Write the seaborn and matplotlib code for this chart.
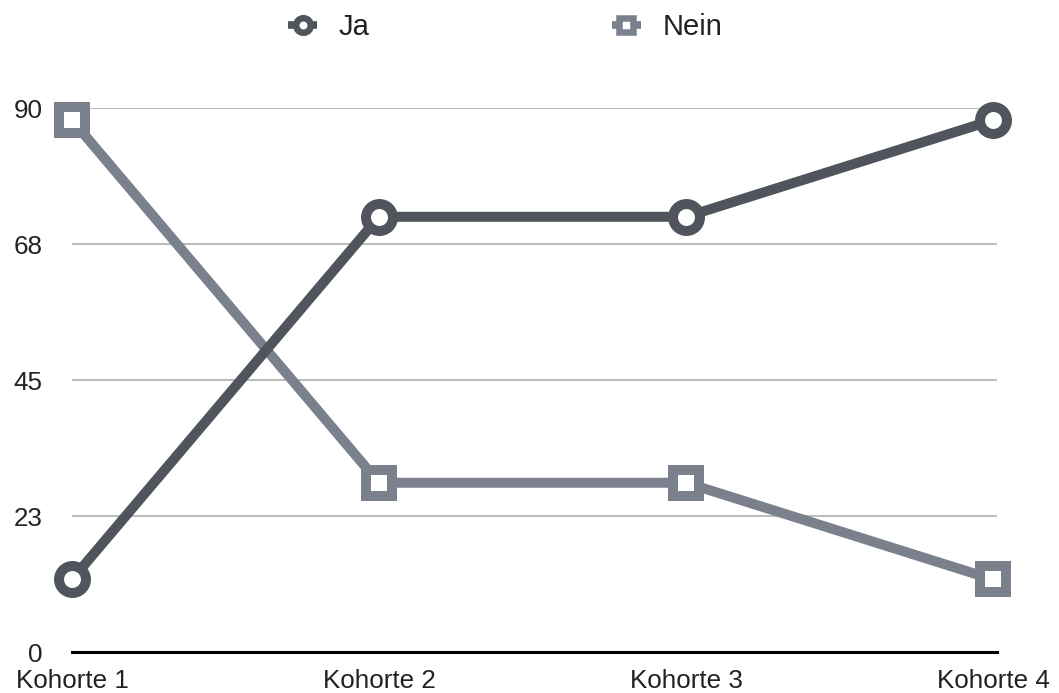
import matplotlib
matplotlib.use("Agg")
import matplotlib.pyplot as plt
from matplotlib.lines import Line2D
import seaborn as sns
import pandas as pd

# Survey answers per cohort
kohorten = ["Kohorte 1", "Kohorte 2", "Kohorte 3", "Kohorte 4"]
ja = [12, 72, 72, 88]
nein = [88, 28, 28, 12]

y_ticks = [0, 22.5, 45, 67.5, 90]
y_tick_labels = ["0", "23", "45", "68", "90"]

farben = {"Ja": "#50545c", "Nein": "#7a818d"}
marker = {"Ja": "o", "Nein": "s"}

df = pd.DataFrame({
    "Kohorte": kohorten * 2,
    "pos": list(range(len(kohorten))) * 2,
    "Wert": ja + nein,
    "Antwort": ["Ja"] * len(ja) + ["Nein"] * len(nein),
})

sns.set_theme(style="white")
plt.rcParams["font.family"] = ["Liberation Sans", "DejaVu Sans"]

fig = plt.figure(figsize=(10.59, 6.93), dpi=100)
ax = fig.add_axes([72 / 1059, 1 - 652 / 693, (997 - 72) / 1059, (652 - 108) / 693])

sns.lineplot(
    data=df, x="pos", y="Wert", hue="Antwort", style="Antwort",
    palette=farben, markers=marker, dashes=False, ax=ax,
    linewidth=7.2, markersize=19.4, markeredgewidth=7.2,
    markerfacecolor="white", legend=False, clip_on=False,
    hue_order=["Nein", "Ja"], style_order=["Nein", "Ja"],
)
for line in ax.lines:
    line.set_markeredgecolor(line.get_color())
    line.set_markerfacecolor("white")
    line.set_zorder(3)

ax.set_xlim(0, 3.013)
ax.set_ylim(0, 90)
ax.set_xticks(range(len(kohorten)))
ax.set_xticklabels(kohorten)
ax.set_yticks(y_ticks)
ax.set_yticklabels(y_tick_labels)
ax.set_xlabel("")
ax.set_ylabel("")

ax.grid(axis="y", color="#bdbdbd", linewidth=1.5)
ax.grid(axis="x", visible=False)
for side in ["top", "right", "left"]:
    ax.spines[side].set_visible(False)
ax.spines["bottom"].set_color("black")
ax.spines["bottom"].set_linewidth(2.2)
ax.spines["bottom"].set_zorder(2)

ax.tick_params(axis="y", length=0, pad=21, labelsize=18.7, labelcolor="#222222")
ax.tick_params(axis="x", length=0, pad=12, labelsize=18.7, labelcolor="#222222")

handles = [
    Line2D([], [], color=farben["Ja"], linewidth=5.5, solid_capstyle="butt",
           marker="o", markersize=10.5, markeredgewidth=4.7,
           markerfacecolor="white", markeredgecolor=farben["Ja"]),
    Line2D([], [], color=farben["Nein"], linewidth=5.5, solid_capstyle="butt",
           marker="s", markersize=10.5, markeredgewidth=4.7,
           markerfacecolor="white", markeredgecolor=farben["Nein"]),
]
leg = fig.legend(handles, ["Ja", "Nein"], loc="center", bbox_to_anchor=(0.477, 1 - 27 / 693),
                 ncol=2, frameon=False, fontsize=21, columnspacing=8.3,
                 handlelength=1.0, handletextpad=0.73)
for t in leg.get_texts():
    t.set_color("#222222")

fig.savefig("out.png", dpi=100)
